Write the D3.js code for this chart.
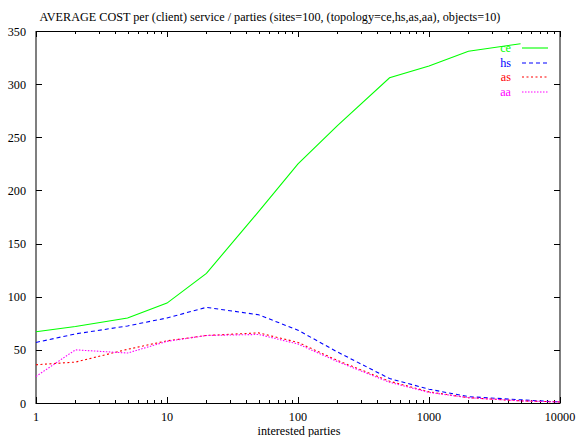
<!DOCTYPE html>
<html>
<head>
<meta charset="utf-8">
<script src="https://cdn.jsdelivr.net/npm/d3@7"></script>
<style>
  html, body { margin: 0; padding: 0; background: #fff; }
</style>
</head>
<body>
<div id="chart"></div>
<script>
// Values
const parties = [1, 2, 5, 10, 20, 50, 100, 200, 500, 1000, 2000, 5000, 10000];
const ceCost = [67, 72, 80, 94, 122, 180, 225, 261, 306, 317, 331, 338];
const hsCost = [57, 65, 72.5, 80, 90, 83, 68.5, 48, 23, 13, 6, 3, 1];
const asCost = [36, 38.5, 50.5, 58.5, 63.5, 66, 57, 40, 20.5, 10.5, 5, 2, 1];
const aaCost = [25, 50, 47, 58, 63.5, 64.5, 55.5, 39, 19.5, 10, 5, 2, 1];
const yTicks = [0, 50, 100, 150, 200, 250, 300, 350];
const xTicks = [1, 10, 100, 1000, 10000];

const series = [
  { name: 'ce', values: ceCost, color: '#00ff00', dash: null },
  { name: 'hs', values: hsCost, color: '#0000ff', dash: '4,3' },
  { name: 'as', values: asCost, color: '#ff0000', dash: '2,2.5' },
  { name: 'aa', values: aaCost, color: '#ff00ff', dash: '1.5,1.5' }
];

const W = 578, H = 437;
const m = { left: 36, right: 560, top: 31, bottom: 403 };
const FONT = "'Liberation Serif', 'Times New Roman', Times, serif";
const FS = '12.2px';

const svg = d3.select('#chart').append('svg')
  .attr('width', W).attr('height', H)
  .attr('font-family', FONT);

const x = d3.scaleLog().domain([1, 10000]).range([m.left, m.right]);
const y = d3.scaleLinear().domain([0, 350]).range([m.bottom, m.top]);

// Title
svg.append('text')
  .attr('x', 270).attr('y', 21)
  .attr('text-anchor', 'middle')
  .attr('font-size', FS)
  .text('AVERAGE COST per (client) service / parties (sites=100, (topology=ce,hs,as,aa), objects=10)');

// Border
svg.append('rect')
  .attr('x', m.left).attr('y', m.top + 0.5)
  .attr('width', m.right - m.left).attr('height', m.bottom - m.top)
  .attr('fill', 'none').attr('stroke', '#000').attr('stroke-width', 1);

// Y ticks on left and right (inward)
const yt = svg.append('g').attr('stroke', '#000');
yTicks.forEach(v => {
  const py = Math.round(y(v)) + 0.5;
  yt.append('line').attr('x1', m.left).attr('x2', m.left + 6).attr('y1', py).attr('y2', py);
  yt.append('line').attr('x1', m.right).attr('x2', m.right - 6).attr('y1', py).attr('y2', py);
});
svg.append('g').selectAll('text').data(yTicks).join('text')
  .attr('x', 26).attr('y', d => y(d) + 4.5)
  .attr('text-anchor', 'end').attr('font-size', FS)
  .text(d => d);

// X ticks (log major and minor), bottom and top
const minor = [];
for (let dec = 1; dec < 10000; dec *= 10) {
  for (let k = 2; k <= 9; k++) minor.push(dec * k);
}
const xt = svg.append('g').attr('stroke', '#000');
xTicks.forEach(v => {
  const px = Math.round(x(v)) + 0.5;
  xt.append('line').attr('x1', px).attr('x2', px).attr('y1', m.bottom).attr('y2', m.bottom - 6);
  xt.append('line').attr('x1', px).attr('x2', px).attr('y1', m.top).attr('y2', m.top + 6);
});
minor.forEach(v => {
  const px = Math.round(x(v)) + 0.5;
  xt.append('line').attr('x1', px).attr('x2', px).attr('y1', m.bottom).attr('y2', m.bottom - 3);
  xt.append('line').attr('x1', px).attr('x2', px).attr('y1', m.top).attr('y2', m.top + 3);
});
svg.append('g').selectAll('text').data(xTicks).join('text')
  .attr('x', d => x(d)).attr('y', 421)
  .attr('text-anchor', 'middle').attr('font-size', FS)
  .text(d => d);

svg.append('text')
  .attr('x', 299).attr('y', 434.5)
  .attr('text-anchor', 'middle').attr('font-size', FS)
  .text('interested parties');

// Lines
const line = d3.line()
  .x((d, i) => x(parties[i]))
  .y(d => y(d));

series.forEach(s => {
  svg.append('path')
    .datum(s.values)
    .attr('fill', 'none')
    .attr('stroke', s.color)
    .attr('stroke-width', 1.1)
    .attr('stroke-dasharray', s.dash)
    .attr('d', line);
});

// Legend
const leg = svg.append('g');
series.forEach((s, i) => {
  const ly = Math.round(48 + i * 14.5);
  leg.append('text')
    .attr('x', 511).attr('y', ly + 4)
    .attr('text-anchor', 'end').attr('font-size', FS)
    .attr('fill', s.color)
    .text(s.name);
  leg.append('line')
    .attr('x1', 522).attr('x2', 548)
    .attr('y1', ly).attr('y2', ly)
    .attr('stroke', s.color).attr('stroke-width', 1.1)
    .attr('stroke-dasharray', s.dash);
});
</script>
</body>
</html>
